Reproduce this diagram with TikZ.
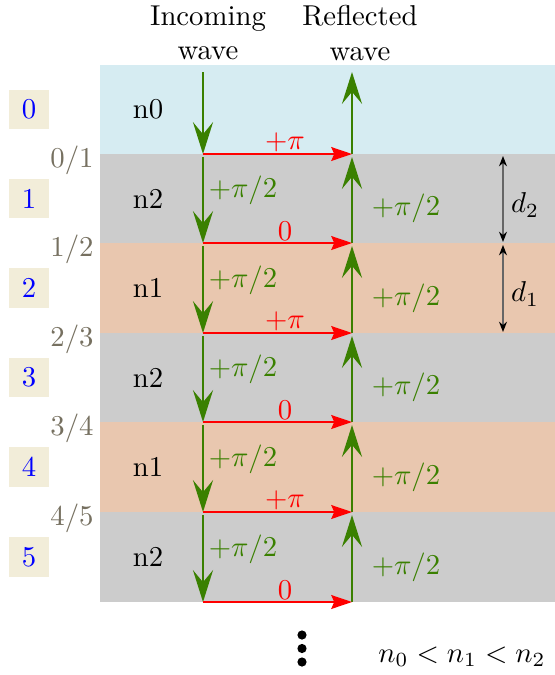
\documentclass[tikz,border=0pt]{standalone}
\usetikzlibrary{arrows.meta}
\definecolor{lblue}{RGB}{214,236,242}
\definecolor{lgray}{RGB}{204,204,204}
\definecolor{peach}{RGB}{233,199,175}
\definecolor{wgreen}{RGB}{58,128,0}
\definecolor{beige}{RGB}{242,237,217}
\definecolor{ifc}{RGB}{118,112,96}
\begin{document}
\begin{tikzpicture}[x=0.348pt,y=-0.348pt,
  gw/.style={wgreen,line width=0.7pt,-{Stealth[length=11.1pt,width=7pt,inset=4.2pt]}},
  rw/.style={red,line width=0.7pt,-{Stealth[length=7.2pt,width=4.8pt,inset=1pt]}},
  dimarrow/.style={black!60,line width=0.45pt,{Stealth[length=3.6pt,width=2.8pt,black]}-{Stealth[length=3.6pt,width=2.8pt,black]}},
  numbox/.style={fill=beige,text=blue,minimum size=13.9pt,inner sep=0pt},
  ifl/.style={text=ifc},
  glab/.style={text=wgreen},
  rlab/.style={text=red}]
\useasboundingbox (0,0) rectangle (555,675);
% bands
\fill[lblue] (100,65) rectangle (555,154);
\fill[lgray] (100,154) rectangle (555,243);
\fill[peach] (100,243) rectangle (555,333);
\fill[lgray] (100,333) rectangle (555,422);
\fill[peach] (100,422) rectangle (555,512);
\fill[lgray] (100,512) rectangle (555,602);
% headers
\node[align=center] (hin) at (208,33) {Incoming\\wave};
\node[align=center] (href) at (360,33) {Reflected\\wave};
% layer labels and number boxes
\foreach \i/\m/\n in {0/109.5/n0,1/198.5/n2,2/288/n1,3/377.5/n2,4/467/n1,5/557/n2}{
  \node (lay\i) at (148,\m) {\n};
  \node[numbox] (box\i) at (29,\m) {\i};
}
% interface coordinates
\foreach \i/\y in {1/154,2/243,3/333,4/422,5/512,6/602}{
  \coordinate (in\i) at (203,\y);
  \coordinate (re\i) at (352,\y);
  \coordinate (ins\i) at (203,\y+3);
  \coordinate (res\i) at (352,\y+3);
}
\coordinate (in0) at (203,72);
\coordinate (re0) at (352,72);
% interface labels
\foreach \i/\y/\t in {1/160/0\slash1,2/249/1\slash2,3/339/2\slash3,4/428/3\slash4,5/518/4\slash5}{
  \node[ifl] (if\i) at (72,\y) {$\t$};
}
% green arrows
\draw[gw] (in0) -- (in1);
\draw[gw] (re1) -- (re0);
\foreach \i [evaluate=\i as \j using int(\i+1)] in {1,...,5}{
  \draw[gw] (ins\i) -- (in\j);
  \draw[gw] (re\j) -- (res\i);
}
% red arrows
\foreach \i in {1,...,6}{
  \draw[rw] (in\i) -- (re\i);
}
\foreach \i/\y/\t in {1/142/+\pi,2/231/0,3/321/+\pi,4/410/0,5/500/+\pi,6/590/0}{
  \node[rlab] (rl\i) at (285,\y) {$\t$};
}
% green phase labels
\foreach \i/\m in {1/198.5,2/288,3/377.5,4/467,5/557}{
  \node[glab] (gl\i) at (243,\m-8) {$+\pi/2$};
  \node[glab] (gr\i) at (406,\m+10) {$+\pi/2$};
}
% thickness arrows
\coordinate (d2a) at (503,156);
\coordinate (d2b) at (503,242);
\coordinate (d1a) at (503,245);
\coordinate (d1b) at (503,332);
\draw[dimarrow] (d2a) -- (d2b);
\draw[dimarrow] (d1a) -- (d1b);
\node (d2) at (525,205) {$d_2$};
\node (d1) at (525,294) {$d_1$};
% dots
\fill (302,635) circle (1.6pt);
\fill (302,648.5) circle (1.6pt);
\fill (302,662) circle (1.6pt);
\node (ineq) at (462,657) {$n_0<n_1<n_2$};
\end{tikzpicture}
\end{document}
